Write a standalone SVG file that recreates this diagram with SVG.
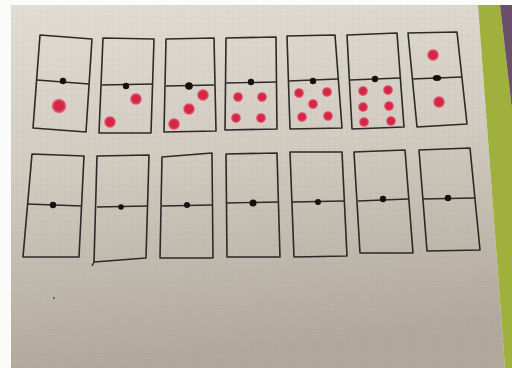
<svg xmlns="http://www.w3.org/2000/svg" width="512" height="368" viewBox="0 0 512 368">
<defs>
<linearGradient id="paper" x1="0" y1="0" x2="0.15" y2="1">
<stop offset="0" stop-color="#e2ded5"/>
<stop offset="0.45" stop-color="#d2ccc1"/>
<stop offset="1" stop-color="#b2a99d"/>
</linearGradient>
<pattern id="grid" width="6" height="6" patternUnits="userSpaceOnUse">
<path d="M6 0V6M0 6H6" fill="none" stroke="#8f877c" stroke-width="0.5" stroke-opacity="0.2"/>
</pattern>
<radialGradient id="pip">
<stop offset="0.55" stop-color="#d42745"/>
<stop offset="0.8" stop-color="#e0566c"/>
<stop offset="1" stop-color="#f0b0b8" stop-opacity="0.2"/>
</radialGradient>
</defs>
<style>
.out{fill:none;stroke:#2b2a28;stroke-width:1.6;stroke-linejoin:round}
.mid{stroke:#2b2a28;stroke-width:1.4}
.dot{fill:#141210}
.pip{fill:url(#pip)}
</style>
<rect width="512" height="368" fill="#fbfbfa"/>
<polygon points="11,5 478,5 505,368 11,368" fill="url(#paper)"/>
<polygon points="11,5 478,5 505,368 11,368" fill="url(#grid)"/>
<polygon points="478,5 500,5 512,110 512,368 505,368" fill="#9fb03c"/>
<polygon points="500,5 512,5 512,110" fill="#6a4f6a"/>
<circle cx="54" cy="298" r="1" fill="#555"/>

<g id="d1">
<polygon class="out" points="40,35 92,39 86,132 33,128"/>
<line class="mid" x1="37" y1="80" x2="89" y2="84"/>
<circle class="dot" cx="63" cy="81" r="3.2"/>
<circle class="pip" cx="59" cy="106" r="8"/>
</g>
<g id="d2">
<polygon class="out" points="103,38 154,39 151,133 99,133"/>
<line class="mid" x1="102" y1="85" x2="153" y2="84"/>
<circle class="dot" cx="126" cy="86" r="3.2"/>
<circle class="pip" cx="136" cy="99" r="6.5"/>
<circle class="pip" cx="110" cy="122" r="6.5"/>
</g>
<g id="d3">
<polygon class="out" points="166,39 214,38 216,131 164,132"/>
<line class="mid" x1="166" y1="86" x2="214" y2="85"/>
<circle class="dot" cx="189" cy="86" r="3.8"/>
<circle class="pip" cx="203" cy="95" r="6.5"/>
<circle class="pip" cx="189" cy="109" r="6.5"/>
<circle class="pip" cx="174" cy="124" r="6.5"/>
</g>
<g id="d4">
<polygon class="out" points="226,38 276,37 277,129 225,130"/>
<line class="mid" x1="226" y1="83" x2="276" y2="82"/>
<circle class="dot" cx="251" cy="82" r="3.2"/>
<circle class="pip" cx="238" cy="97" r="5.5"/>
<circle class="pip" cx="262" cy="97" r="5.5"/>
<circle class="pip" cx="236" cy="118" r="5.5"/>
<circle class="pip" cx="261" cy="118" r="5.5"/>
</g>
<g id="d5">
<polygon class="out" points="287,36 335,35 342,128 290,129"/>
<line class="mid" x1="288" y1="81" x2="338" y2="79"/>
<circle class="dot" cx="313" cy="81" r="3.2"/>
<circle class="pip" cx="299" cy="93" r="5.5"/>
<circle class="pip" cx="327" cy="92" r="5.5"/>
<circle class="pip" cx="313" cy="104" r="5.5"/>
<circle class="pip" cx="302" cy="117" r="5.5"/>
<circle class="pip" cx="328" cy="116" r="5.5"/>
</g>
<g id="d6">
<polygon class="out" points="347,35 397,33 404,127 352,129"/>
<line class="mid" x1="350" y1="80" x2="400" y2="78"/>
<circle class="dot" cx="375" cy="79" r="3.2"/>
<circle class="pip" cx="363" cy="91" r="5.5"/>
<circle class="pip" cx="388" cy="90" r="5.5"/>
<circle class="pip" cx="363" cy="107" r="5.5"/>
<circle class="pip" cx="389" cy="106" r="5.5"/>
<circle class="pip" cx="364" cy="122" r="5.5"/>
<circle class="pip" cx="391" cy="121" r="5.5"/>
</g>
<g id="d7">
<polygon class="out" points="408,33 457,32 467,124 417,127"/>
<line class="mid" x1="412" y1="79" x2="462" y2="77"/>
<ellipse class="dot" cx="437" cy="78" rx="4.2" ry="3"/>
<circle class="pip" cx="433" cy="55" r="6.5"/>
<circle class="pip" cx="439" cy="102" r="6.5"/>
</g>

<g id="e1">
<polygon class="out" points="32,154 84,156 79,257 23,257"/>
<line class="mid" x1="27" y1="204" x2="82" y2="206"/>
<circle class="dot" cx="53" cy="205" r="3.2"/>
</g>
<g id="e2">
<polygon class="out" points="97,156 149,155 146,258 94,262"/>
<line class="mid" x1="94" y1="262" x2="92" y2="266"/>
<line class="mid" x1="97" y1="207" x2="148" y2="206"/>
<circle class="dot" cx="121" cy="207" r="2.8"/>
</g>
<g id="e3">
<polygon class="out" points="162,157 212,153 213,258 160,258"/>
<line class="mid" x1="162" y1="206" x2="212" y2="205"/>
<circle class="dot" cx="187" cy="205" r="3"/>
</g>
<g id="e4">
<polygon class="out" points="226,154 277,153 280,257 227,257"/>
<line class="mid" x1="226" y1="203" x2="278" y2="202"/>
<circle class="dot" cx="253" cy="203" r="3.5"/>
</g>
<g id="e5">
<polygon class="out" points="290,152 342,152 347,256 294,257"/>
<line class="mid" x1="292" y1="202" x2="344" y2="201"/>
<circle class="dot" cx="318" cy="202" r="3"/>
</g>
<g id="e6">
<polygon class="out" points="354,152 405,150 413,253 360,253"/>
<line class="mid" x1="358" y1="201" x2="408" y2="199"/>
<circle class="dot" cx="383" cy="199" r="3.2"/>
</g>
<g id="e7">
<polygon class="out" points="419,150 470,148 480,250 427,251"/>
<line class="mid" x1="423" y1="199" x2="475" y2="198"/>
<circle class="dot" cx="448" cy="198" r="3.2"/>
</g>
</svg>
